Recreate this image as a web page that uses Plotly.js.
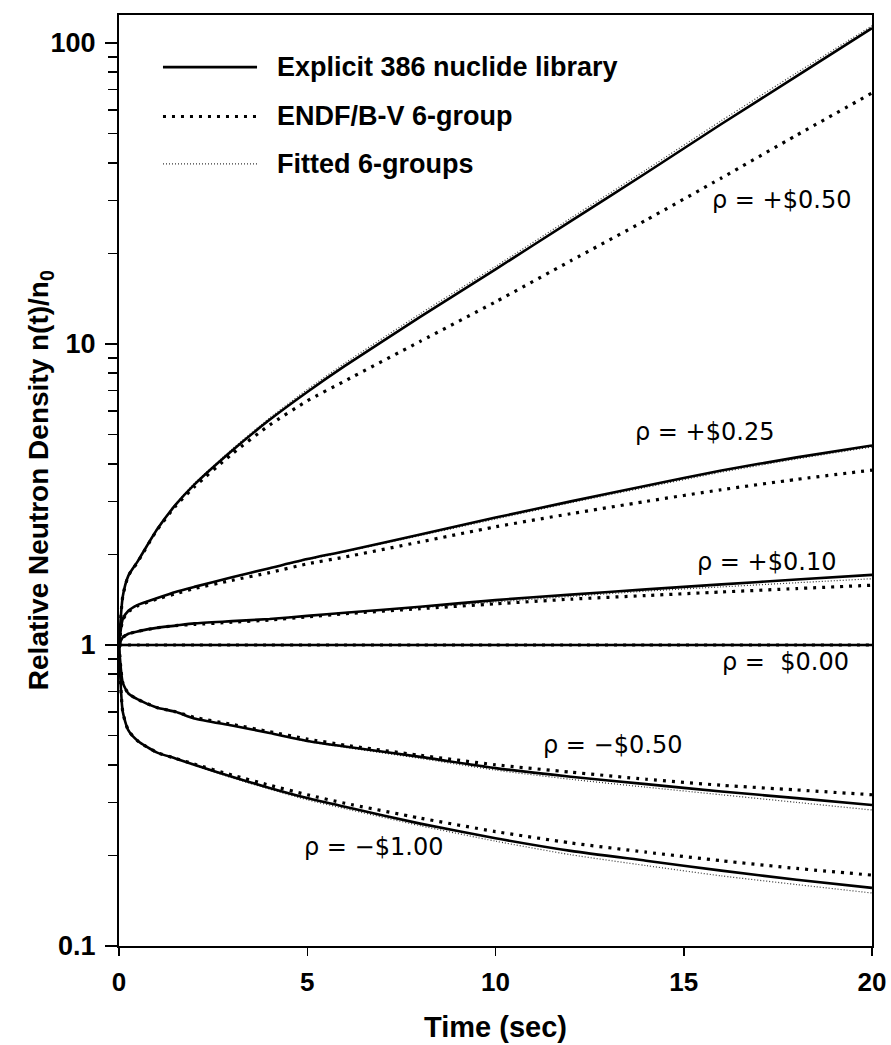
<!DOCTYPE html>
<html>
<head>
<meta charset="utf-8">
<script src="https://cdn.plot.ly/plotly-3.0.1.min.js"></script>
<style>html,body{margin:0;padding:0;background:#fff;}#chart{width:891px;height:1045px;}</style>
</head>
<body>
<div id="chart"></div>
<script>
// time points (sec)
const time = [0, 0.1, 0.25, 0.5, 1, 1.5, 2, 3, 4, 5, 6, 8, 10, 12, 14, 16, 18, 20];

// rho = +$0.50
const p050_explicit = [1.0, 1.45, 1.7, 1.9, 2.41, 2.92, 3.41, 4.42, 5.6, 6.93, 8.46, 12.3, 17.7, 25.6, 37.0, 53.8, 77.6, 112];
const p050_endf     = [1.0, 1.45, 1.7, 1.89, 2.40, 2.89, 3.35, 4.31, 5.38, 6.47, 7.54, 10.2, 13.8, 18.9, 25.8, 35.6, 49.4, 68.2];
const p050_fitted   = [1.0, 1.45, 1.7, 1.9, 2.42, 2.94, 3.44, 4.47, 5.68, 7.06, 8.64, 12.6, 18.1, 26.2, 37.9, 55.2, 79.6, 114];

// rho = +$0.25
const p025_explicit = [1.0, 1.22, 1.3, 1.36, 1.43, 1.5, 1.56, 1.68, 1.8, 1.93, 2.05, 2.33, 2.65, 3.0, 3.38, 3.8, 4.2, 4.6];
const p025_endf     = [1.0, 1.21, 1.29, 1.35, 1.42, 1.48, 1.54, 1.64, 1.74, 1.86, 1.96, 2.2, 2.47, 2.73, 3.0, 3.28, 3.55, 3.81];
const p025_fitted   = [1.0, 1.22, 1.3, 1.36, 1.43, 1.5, 1.56, 1.68, 1.8, 1.92, 2.04, 2.31, 2.62, 2.97, 3.34, 3.75, 4.15, 4.55];

// rho = +$0.10
const p010_explicit = [1.0, 1.06, 1.09, 1.11, 1.14, 1.16, 1.18, 1.2, 1.22, 1.25, 1.28, 1.34, 1.41, 1.47, 1.53, 1.59, 1.65, 1.71];
const p010_endf     = [1.0, 1.06, 1.09, 1.11, 1.14, 1.16, 1.17, 1.19, 1.21, 1.24, 1.27, 1.32, 1.37, 1.42, 1.46, 1.5, 1.54, 1.58];
const p010_fitted   = [1.0, 1.06, 1.09, 1.11, 1.14, 1.16, 1.18, 1.2, 1.22, 1.25, 1.28, 1.33, 1.39, 1.45, 1.51, 1.56, 1.61, 1.66];

// rho = $0.00
const p000_explicit = [1.0, 1.0, 1.0, 1.0, 1.0, 1.0, 1.0, 1.0, 1.0, 1.0, 1.0, 1.0, 1.0, 1.0, 1.0, 1.0, 1.0, 1.0];
const p000_endf     = [1.0, 1.0, 1.0, 1.0, 1.0, 1.0, 1.0, 1.0, 1.0, 1.0, 1.0, 1.0, 1.0, 1.0, 1.0, 1.0, 1.0, 1.0];
const p000_fitted   = [1.0, 1.0, 1.0, 1.0, 1.0, 1.0, 1.0, 1.0, 1.0, 1.0, 1.0, 1.0, 1.0, 1.0, 1.0, 1.0, 1.0, 1.0];

// rho = -$0.50
const m050_explicit = [1.0, 0.75, 0.69, 0.66, 0.62, 0.6, 0.57, 0.54, 0.51, 0.48, 0.46, 0.425, 0.39, 0.365, 0.345, 0.326, 0.31, 0.294];
const m050_endf     = [1.0, 0.75, 0.69, 0.66, 0.62, 0.6, 0.575, 0.545, 0.515, 0.487, 0.465, 0.43, 0.4, 0.378, 0.358, 0.342, 0.33, 0.318];
const m050_fitted   = [1.0, 0.75, 0.69, 0.66, 0.62, 0.6, 0.57, 0.54, 0.51, 0.478, 0.457, 0.42, 0.384, 0.358, 0.337, 0.318, 0.3, 0.283];

// rho = -$1.00
const m100_explicit = [1.0, 0.6, 0.52, 0.48, 0.44, 0.42, 0.40, 0.365, 0.335, 0.31, 0.29, 0.255, 0.228, 0.207, 0.192, 0.178, 0.166, 0.156];
const m100_endf     = [1.0, 0.6, 0.52, 0.48, 0.44, 0.42, 0.402, 0.37, 0.342, 0.318, 0.298, 0.266, 0.24, 0.22, 0.205, 0.192, 0.181, 0.172];
const m100_fitted   = [1.0, 0.6, 0.52, 0.48, 0.44, 0.42, 0.398, 0.362, 0.332, 0.306, 0.286, 0.251, 0.223, 0.201, 0.185, 0.171, 0.16, 0.150];

// legend labels, titles and curve labels
const legendNames = ["Explicit 386 nuclide library", "ENDF/B-V 6-group", "Fitted 6-groups"];
const xTitle = "Time (sec)";
const yTitle = "Relative Neutron Density n(t)/n<sub>0</sub>";
const curveLabels = ["ρ = +$0.50", "ρ = +$0.25", "ρ = +$0.10", "ρ =  $0.00", "ρ = −$0.50", "ρ = −$1.00"];
const labelX = [17.6, 15.56, 17.2, 17.7, 13.1, 6.75];
const labelY = [30.0, 5.11, 1.89, 0.879, 0.466, 0.213];

// axis ticks
const yMajor = [0.1, 1, 10, 100];
const yMajorText = ["0.1", "1", "10", "100"];
const xTicks = [0, 5, 10, 15, 20];

const groups = [
  [p050_explicit, p050_endf, p050_fitted],
  [p025_explicit, p025_endf, p025_fitted],
  [p010_explicit, p010_endf, p010_fitted],
  [p000_explicit, p000_endf, p000_fitted],
  [m050_explicit, m050_endf, m050_fitted],
  [m100_explicit, m100_endf, m100_fitted]
];

const styles = [
  {color: '#000', width: 2.6, dash: 'solid'},
  {color: '#000', width: 3.2, dash: '3px,6px'},
  {color: '#333', width: 1.2, dash: '1px,2px'}
];

const traces = [];
groups.forEach((g, gi) => {
  [2, 1, 0].forEach(k => {
    traces.push({
      x: time, y: g[k], type: 'scatter', mode: 'lines',
      line: Object.assign({shape: 'spline', smoothing: 0.6}, styles[k]),
      name: legendNames[k], showlegend: false, hoverinfo: 'skip'
    });
  });
});

// minor ticks (2..9 per decade)
const yMinor = [];
[0.1, 1, 10].forEach(d => { for (let m = 2; m <= 9; m++) yMinor.push(+(d * m).toPrecision(3)); });

const boldFont = 'Liberation Sans, Arial, sans-serif';

const annotations = curveLabels.map((t, i) => ({
  text: t, x: labelX[i], y: Math.log10(labelY[i]), xref: 'x', yref: 'y',
  showarrow: false, xanchor: 'center', yanchor: 'middle',
  font: {family: 'DejaVu Sans, sans-serif', size: 24, color: '#000'}
}));

// y-axis title as a rotated annotation
annotations.push({text: '<b>' + yTitle + '</b>', xref: 'paper', yref: 'paper', x: -0.104, y: 0.5,
  xanchor: 'center', yanchor: 'middle', textangle: -90, showarrow: false,
  font: {family: boldFont, size: 28, color: '#000'}});

// legend (drawn as layout items)
const legY = [0.944, 0.891, 0.840];
const shapes = [];
legendNames.forEach((n, i) => {
  shapes.push({type: 'line', xref: 'paper', yref: 'paper', x0: 0.0584, x1: 0.1833, y0: legY[i], y1: legY[i],
    line: {color: styles[i].color, width: styles[i].width, dash: styles[i].dash}});
  annotations.push({text: '<b>' + n + '</b>', xref: 'paper', yref: 'paper', x: 0.207, y: legY[i],
    xanchor: 'left', yanchor: 'middle', showarrow: false,
    font: {family: boldFont, size: 27, color: '#000'}});
});

const layout = {
  width: 891, height: 1045,
  margin: {l: 119, r: 19, t: 15, b: 99},
  paper_bgcolor: '#fff', plot_bgcolor: '#fff',
  showlegend: false,
  font: {family: boldFont, color: '#000'},
  xaxis: {
    range: [0, 20], tickvals: xTicks, ticktext: xTicks.map(String),
    ticks: 'outside', ticklen: 8, tickwidth: 1.5, tickcolor: '#000',
    showline: true, linewidth: 2, linecolor: '#000', mirror: true,
    showgrid: false, zeroline: false,
    tickfont: {family: boldFont, size: 26, color: '#000', weight: 'bold'},
    ticklabelstandoff: 4,
    title: {text: '<b>' + xTitle + '</b>', font: {family: boldFont, size: 29, color: '#000'}, standoff: 20}
  },
  yaxis: {
    type: 'log', range: [-1, 2.093],
    tickvals: yMajor, ticktext: yMajorText,
    ticks: 'outside', ticklen: 12, tickwidth: 1.5, tickcolor: '#000',
    minor: {tickvals: yMinor, ticks: 'outside', ticklen: 9, tickwidth: 1.5, tickcolor: '#000', showgrid: false},
    showline: true, linewidth: 2, linecolor: '#000', mirror: true,
    showgrid: false, zeroline: false,
    tickfont: {family: boldFont, size: 27, color: '#000', weight: 'bold'},
    ticklabelstandoff: 4
  },
  annotations: annotations,
  shapes: shapes
};

Plotly.newPlot('chart', traces, layout, {displayModeBar: false, staticPlot: true});
</script>
</body>
</html>
